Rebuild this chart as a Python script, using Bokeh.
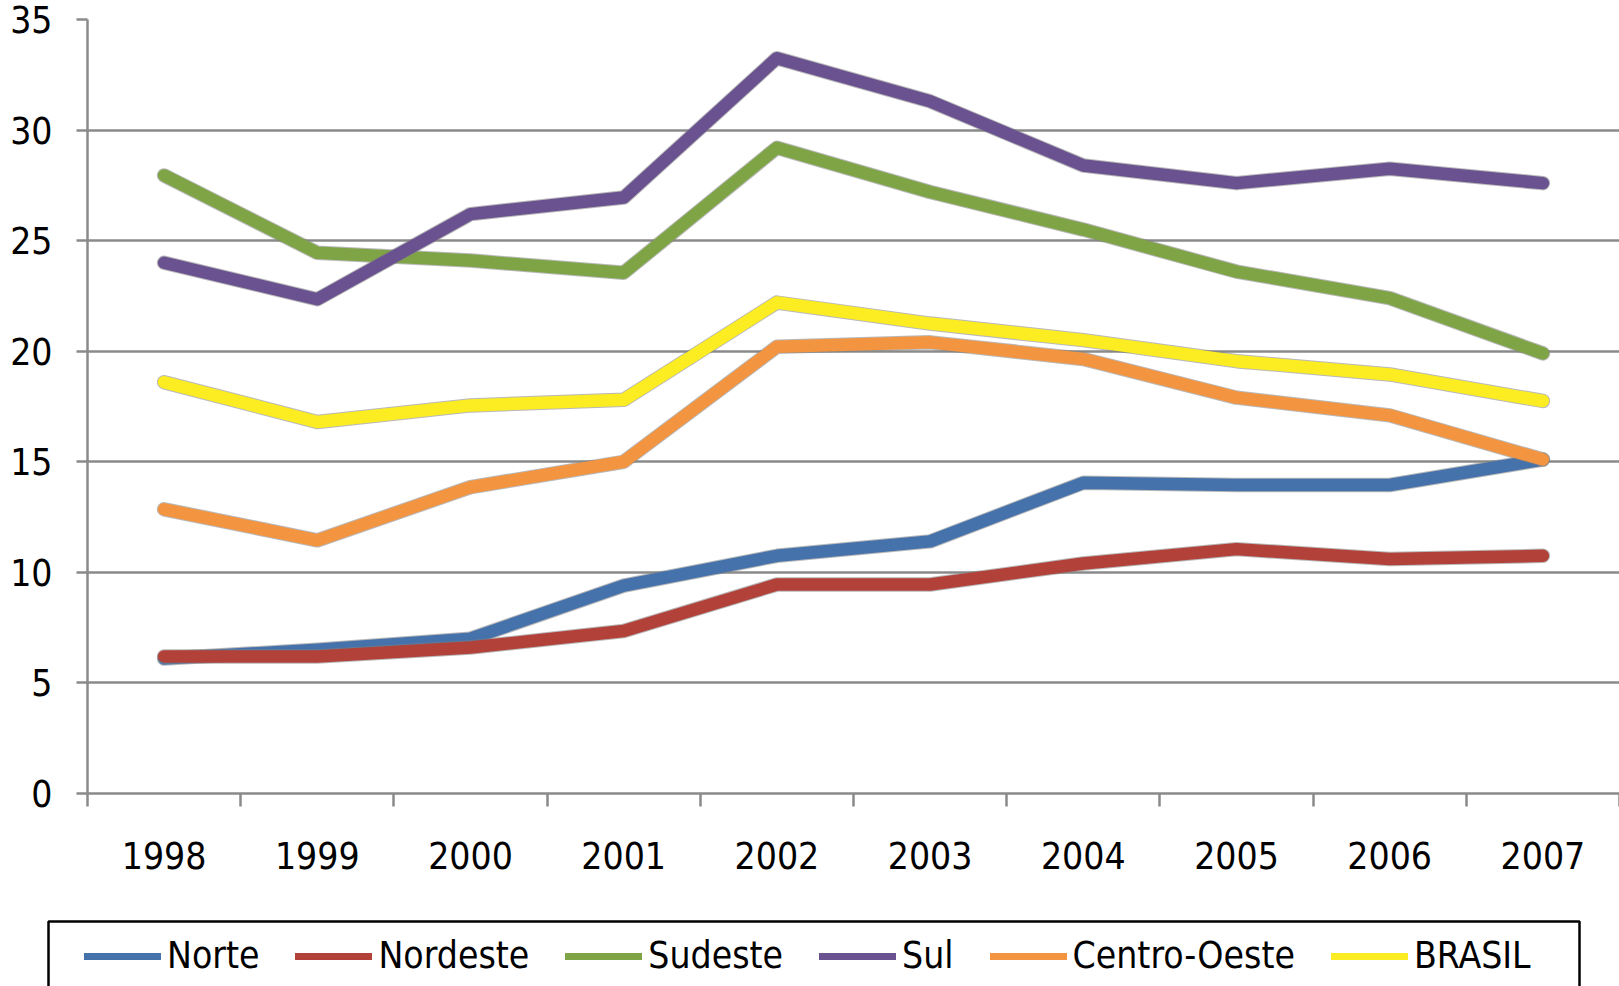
from bokeh.plotting import figure
from bokeh.layouts import column
from bokeh.models import (FixedTicker, Legend, LegendItem, ColumnDataSource,
                          BasicTickFormatter, BoxAnnotation)
from bokeh.embed import file_html
from bokeh.resources import INLINE

# Series by region, 1998-2007
years = [1998, 1999, 2000, 2001, 2002, 2003, 2004, 2005, 2006, 2007]
norte = [6.1, 6.5, 7.0, 9.4, 10.75, 11.4, 14.05, 13.95, 13.95, 15.1]
nordeste = [6.2, 6.2, 6.6, 7.35, 9.45, 9.45, 10.4, 11.05, 10.6, 10.75]
sudeste = [27.95, 24.45, 24.1, 23.55, 29.2, 27.2, 25.5, 23.6, 22.4, 19.9]
sul = [24.0, 22.35, 26.2, 26.95, 33.25, 31.3, 28.4, 27.6, 28.25, 27.6]
centro_oeste = [12.85, 11.45, 13.85, 15.0, 20.2, 20.4, 19.65, 17.9, 17.1, 15.1]
brasil = [18.6, 16.8, 17.55, 17.8, 22.2, 21.25, 20.5, 19.55, 18.95, 17.75]

series_names = ["Norte", "Nordeste", "Sudeste", "Sul", "Centro-Oeste", "BRASIL"]
series_values = [norte, nordeste, sudeste, sul, centro_oeste, brasil]
series_colors = ["#4672AC", "#B2413A", "#7EA446", "#6A5290", "#F39440", "#FCEC22"]

y_ticks = [0, 5, 10, 15, 20, 25, 30, 35]

FONT = "'DejaVu Sans Condensed', 'DejaVu Sans', sans-serif"
FONT_SIZE = "37px"
GRID = "#8a8a8a"

# ---- main chart ----
p = figure(
    width=1619, height=915,
    x_range=(years[0] - 0.5, years[-1] + 0.5),
    y_range=(y_ticks[0], y_ticks[-1]),
    output_backend="svg", toolbar_location=None,
    min_border_left=87, min_border_right=0,
    min_border_top=19, min_border_bottom=122,
)
p.frame_align = False
p.outline_line_color = None
p.background_fill_color = "white"
p.border_fill_color = "white"

# value axis
p.yaxis.ticker = FixedTicker(ticks=y_ticks, minor_ticks=[])
p.yaxis.axis_line_color = GRID
p.yaxis.axis_line_width = 2.5
p.yaxis.major_tick_line_color = GRID
p.yaxis.major_tick_line_width = 2.5
p.yaxis.major_tick_out = 11
p.yaxis.major_tick_in = 0
p.yaxis.major_label_standoff = 24
p.yaxis.major_label_text_font = FONT
p.yaxis.major_label_text_font_size = FONT_SIZE
p.yaxis.major_label_text_color = "black"

# category axis: labels centred on each year, tick marks between years
boundaries = [y - 0.5 for y in years] + [years[-1] + 0.5]
p.xaxis.ticker = FixedTicker(ticks=years, minor_ticks=boundaries)
p.xaxis.formatter = BasicTickFormatter(use_scientific=False)
p.xaxis.axis_line_color = GRID
p.xaxis.axis_line_width = 2.5
p.xaxis.major_tick_out = 0
p.xaxis.major_tick_in = 0
p.xaxis.minor_tick_line_color = GRID
p.xaxis.minor_tick_line_width = 2.5
p.xaxis.minor_tick_out = 13
p.xaxis.minor_tick_in = 0
p.xaxis.major_label_standoff = 35
p.xaxis.major_label_text_font = FONT
p.xaxis.major_label_text_font_size = FONT_SIZE
p.xaxis.major_label_text_color = "black"

p.xgrid.grid_line_color = None
p.ygrid.ticker = FixedTicker(ticks=y_ticks, minor_ticks=[])
p.ygrid.grid_line_color = GRID
p.ygrid.grid_line_width = 2.5

for name, vals, color in zip(series_names, series_values, series_colors):
    src = ColumnDataSource(data=dict(x=years, y=vals))
    # thin grey edge under each series
    p.line("x", "y", source=src, line_color="#7f7f7f", line_alpha=0.55,
           line_width=14.5, line_cap="round", line_join="round")
    p.line("x", "y", source=src, line_color=color, line_width=12.5,
           line_cap="round", line_join="round")

# ---- legend strip (its own renderers lie outside its visible range) ----
leg = figure(
    width=1619, height=71,
    x_range=(0, 1), y_range=(0, 1),
    output_backend="svg", toolbar_location=None,
    x_axis_location=None, y_axis_location=None,
    min_border_left=0, min_border_right=0,
    min_border_top=0, min_border_bottom=0,
)
leg.frame_align = False
leg.outline_line_color = None
leg.grid.grid_line_color = None
leg.background_fill_color = "white"
leg.border_fill_color = "white"

# frame around the legend entries (its lower edge runs past the strip)
leg.add_layout(BoxAnnotation(
    left=48, right=1579, top=65, bottom=-30,
    left_units="screen", right_units="screen",
    top_units="screen", bottom_units="screen",
    fill_alpha=0, line_color="black", line_alpha=1.0, line_width=2.5,
))

legend_items = []
for name, vals, color in zip(series_names, series_values, series_colors):
    swatch = leg.line(x=years, y=vals, line_color=color, line_width=7, line_cap="round")
    legend_items.append(LegendItem(label=name, renderers=[swatch]))

legend = Legend(
    items=legend_items,
    orientation="horizontal",
    location=(84, 9),
    label_text_font=FONT,
    label_text_font_size=FONT_SIZE,
    label_text_color="black",
    label_standoff=6,
    glyph_width=77,
    glyph_height=40,
    spacing=36,
    padding=0,
    margin=0,
    border_line_color=None,
    background_fill_alpha=0,
)
leg.add_layout(legend, "center")

open("out.html", "w").write(file_html(column(p, leg, spacing=0), INLINE))
